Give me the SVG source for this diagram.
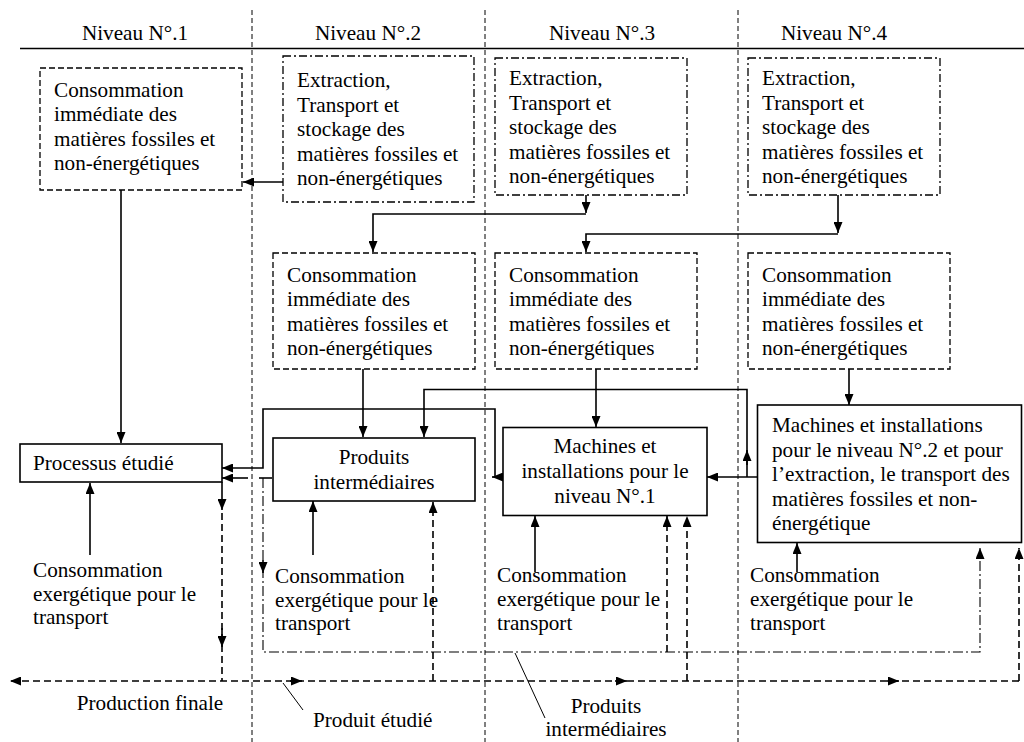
<svg xmlns="http://www.w3.org/2000/svg" width="1024" height="742" viewBox="0 0 1024 742">
<style>
text{font-family:"Liberation Serif","Times New Roman",serif;font-size:21.2px;fill:#000}
.c{text-anchor:middle}
.grid{stroke:#000;stroke-width:1;stroke-dasharray:5 3;fill:none}
.bd{fill:#fff;stroke:#000;stroke-width:1.3;stroke-dasharray:6 3}
.bdd{fill:#fff;stroke:#000;stroke-width:1.3;stroke-dasharray:8 3 2 3}
.bs{fill:#fff;stroke:#000;stroke-width:1.6}
.s{fill:none;stroke:#000;stroke-width:1.6}
.d{fill:none;stroke:#000;stroke-width:1.6;stroke-dasharray:7 4}
.dd{fill:none;stroke:#000;stroke-width:1.1;stroke-dasharray:10 3 2 3}
.thin{fill:none;stroke:#000;stroke-width:1}
</style>
<defs>
<marker id="a" markerUnits="userSpaceOnUse" markerWidth="11" markerHeight="9" refX="11" refY="4.5" orient="auto">
<path d="M0,0 L11,4.5 L0,9 z" fill="#000"/>
</marker>
</defs>
<rect width="1024" height="742" fill="#fff"/>

<g id="grid">
<line x1="20" y1="48.5" x2="1024" y2="48.5" stroke="#000" stroke-width="1.6"/>
<line class="grid" x1="252" y1="10" x2="252" y2="742"/>
<line class="grid" x1="485" y1="10" x2="485" y2="742"/>
<line class="grid" x1="738" y1="10" x2="738" y2="742"/>
<text class="c" x="135" y="40">Niveau N°.1</text>
<text class="c" x="368" y="40">Niveau N°.2</text>
<text class="c" x="602" y="40">Niveau N°.3</text>
<text class="c" x="834" y="40">Niveau N°.4</text>
</g>

<g id="connectors">
<path class="s" d="M283,182 H243" marker-end="url(#a)"/>
<path class="s" d="M121,190 V443" marker-end="url(#a)"/>
<path class="s" d="M586,195 V213" marker-end="url(#a)"/>
<path class="s" d="M586,214 H373 V252" marker-end="url(#a)"/>
<path class="s" d="M838,195 V233" marker-end="url(#a)"/>
<path class="s" d="M838,234 H586 V252" marker-end="url(#a)"/>
<path class="s" d="M363,369 V437" marker-end="url(#a)"/>
<path class="s" d="M596,369 V427" marker-end="url(#a)"/>
<path class="s" d="M849,369 V405" marker-end="url(#a)"/>
<path class="s" d="M747,477 V389.5 H424 V437" marker-end="url(#a)"/>
<path class="s" d="M747,465 V450" marker-end="url(#a)"/>
<path class="s" d="M757,477 H707" marker-end="url(#a)"/>
<path class="s" d="M503,477 H492" marker-end="url(#a)"/>
<path class="s" d="M495,477 V409 H263 V468 H222" marker-end="url(#a)"/>
<path class="s" d="M248,478 H222" marker-end="url(#a)"/>
<path class="s" d="M259,478 H272"/>
<path class="dd" d="M263,478 V652 H980 V548" marker-end="url(#a)"/>
<path class="s" d="M263,560 V573" marker-end="url(#a)"/>
<path class="s" d="M222,482 V510" marker-end="url(#a)"/>
<path class="d" d="M222,513 V681"/>
<path class="s" d="M222,628 V647" marker-end="url(#a)"/>
<path class="s" d="M90,555 V483" marker-end="url(#a)"/>
<path class="s" d="M313,555 V501" marker-end="url(#a)"/>
<path class="s" d="M535,572 V516" marker-end="url(#a)"/>
<path class="s" d="M797,572 V543" marker-end="url(#a)"/>
<path class="d" d="M433,681 V502" marker-end="url(#a)"/>
<path class="d" d="M667,652 V516" marker-end="url(#a)"/>
<path class="d" d="M687,681 V516" marker-end="url(#a)"/>
<path class="d" d="M1019,681 V548" marker-end="url(#a)"/>
<path class="d" d="M1019,681 H10" marker-end="url(#a)"/>
<path class="s" d="M290,681 H302" marker-end="url(#a)"/>
<path class="s" d="M615,681 H627" marker-end="url(#a)"/>
<path class="s" d="M887,681 H899" marker-end="url(#a)"/>
<path class="thin" d="M283,683 L303,710"/>
<path class="thin" d="M515,653 L545,718"/>
</g>

<g id="n1-conso">
<rect class="bd" x="40" y="68" width="202" height="122"/>
<text x="54" y="96.5">Consommation</text>
<text x="54" y="121">immédiate des</text>
<text x="54" y="145.5">matières fossiles et</text>
<text x="54" y="170">non-énergétiques</text>
</g>
<g id="n2-extraction">
<rect class="bdd" x="283" y="56" width="191" height="146"/>
<text x="297" y="87">Extraction,</text>
<text x="297" y="111.5">Transport et</text>
<text x="297" y="136">stockage des</text>
<text x="297" y="160.5">matières fossiles et</text>
<text x="297" y="185">non-énergétiques</text>
</g>
<g id="n3-extraction">
<rect class="bdd" x="495" y="58" width="192" height="137"/>
<text x="509" y="85">Extraction,</text>
<text x="509" y="109.5">Transport et</text>
<text x="509" y="134">stockage des</text>
<text x="509" y="158.5">matières fossiles et</text>
<text x="509" y="183">non-énergétiques</text>
</g>
<g id="n4-extraction">
<rect class="bdd" x="748" y="58" width="192" height="137"/>
<text x="762" y="85">Extraction,</text>
<text x="762" y="109.5">Transport et</text>
<text x="762" y="134">stockage des</text>
<text x="762" y="158.5">matières fossiles et</text>
<text x="762" y="183">non-énergétiques</text>
</g>
<g id="n2-conso">
<rect class="bd" x="273" y="253" width="202" height="116"/>
<text x="287" y="281.5">Consommation</text>
<text x="287" y="306">immédiate des</text>
<text x="287" y="330.5">matières fossiles et</text>
<text x="287" y="355">non-énergétiques</text>
</g>
<g id="n3-conso">
<rect class="bd" x="495" y="253" width="202" height="116"/>
<text x="509" y="281.5">Consommation</text>
<text x="509" y="306">immédiate des</text>
<text x="509" y="330.5">matières fossiles et</text>
<text x="509" y="355">non-énergétiques</text>
</g>
<g id="n4-conso">
<rect class="bd" x="748" y="253" width="202" height="116"/>
<text x="762" y="281.5">Consommation</text>
<text x="762" y="306">immédiate des</text>
<text x="762" y="330.5">matières fossiles et</text>
<text x="762" y="355">non-énergétiques</text>
</g>
<g id="processus">
<rect class="bs" x="20" y="444" width="202" height="38"/>
<text x="33" y="470">Processus étudié</text>
</g>
<g id="produits">
<rect class="bs" x="273" y="438" width="202" height="63"/>
<text class="c" x="374" y="463.5">Produits</text>
<text class="c" x="374" y="488.5">intermédiaires</text>
</g>
<g id="machines-n1">
<rect class="bs" x="503" y="427.5" width="204" height="88"/>
<text class="c" x="605" y="453">Machines et</text>
<text class="c" x="605" y="478">installations pour le</text>
<text class="c" x="605" y="503">niveau N°.1</text>
</g>
<g id="machines-n2">
<rect class="bs" x="757.5" y="405" width="264" height="137.5"/>
<text x="772" y="432">Machines et installations</text>
<text x="772" y="456.5">pour le niveau N°.2 et pour</text>
<text x="772" y="481">l’extraction, le transport des</text>
<text x="772" y="505.5">matières fossiles et non-</text>
<text x="772" y="530">énergétique</text>
</g>
<g id="labels">
<text x="33" y="577">Consommation</text>
<text x="33" y="600.5">exergétique pour le</text>
<text x="33" y="624">transport</text>
<text x="275" y="583">Consommation</text>
<text x="275" y="606.5">exergétique pour le</text>
<text x="275" y="630">transport</text>
<text x="497" y="582">Consommation</text>
<text x="497" y="606">exergétique pour le</text>
<text x="497" y="630">transport</text>
<text x="750" y="582">Consommation</text>
<text x="750" y="606">exergétique pour le</text>
<text x="750" y="630">transport</text>
<text class="c" x="150" y="710">Production finale</text>
<text x="313" y="727">Produit étudié</text>
<text class="c" x="606" y="713">Produits</text>
<text class="c" x="606" y="736">intermédiaires</text>
</g>
</svg>
